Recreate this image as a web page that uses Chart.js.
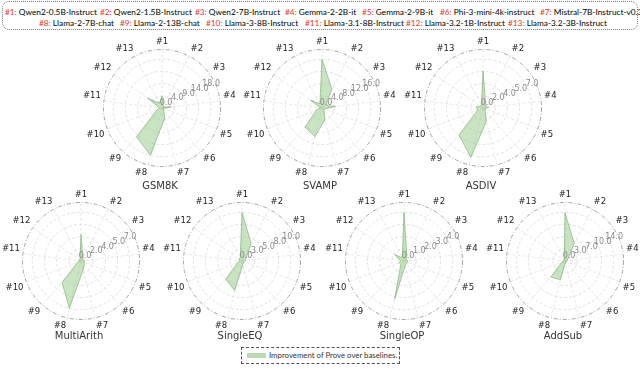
<!DOCTYPE html>
<html>
<head>
<meta charset="utf-8">
<script src="https://cdn.jsdelivr.net/npm/chart.js@4.4.0/dist/chart.umd.min.js"></script>
<style>
    body { margin: 0; width: 640px; height: 381px; position: relative; background: #fff; overflow: hidden; font-family: 'DejaVu Sans', sans-serif; }
    .model-legend { position: absolute; left: 2px; top: 1px; width: 634px; height: 27px; border: 1px dotted #777; border-radius: 7px; }
    .model-item { position: absolute; font-family: Lato, sans-serif; font-size: 8.3px; line-height: 10px; white-space: nowrap; color: #000; }
    .model-item span { color: #e8352b; }
    canvas { position: absolute; }
    .panel-title { position: absolute; font-size: 10px; line-height: 12px; color: #333; transform: translate(-50%, -50%); white-space: nowrap; }
    .gain-legend { position: absolute; left: 241px; top: 347px; width: 157px; height: 15px; border: 1px dashed #555; }
    .gain-patch { position: absolute; left: 5px; top: 5px; width: 19px; height: 5px; background: #bcdab2; }
    .gain-text { position: absolute; left: 27px; top: 2px; font-family: Lato, sans-serif; font-size: 7.8px; line-height: 11px; color: #333; white-space: nowrap; }
</style>
</head>
<body>
<div class="model-legend" id="modelLegend"></div>

<canvas id="gsm8k"></canvas>
<canvas id="svamp"></canvas>
<canvas id="asdiv"></canvas>
<canvas id="multiarith"></canvas>
<canvas id="singleeq"></canvas>
<canvas id="singleop"></canvas>
<canvas id="addsub"></canvas>

<div class="gain-legend">
    <div class="gain-patch"></div>
    <div class="gain-text">Improvement of Prove over baselines.</div>
</div>

<script>
// Models on the top legend
const modelNames = [
    'Qwen2-0.5B-Instruct', 'Qwen2-1.5B-Instruct', 'Qwen2-7B-Instruct', 'Gemma-2-2B-it',
    'Gemma-2-9B-it', 'Phi-3-mini-4k-instruct', 'Mistral-7B-Instruct-v0.3',
    'Llama-2-7B-chat', 'Llama-2-13B-chat', 'Llama-3-8B-Instruct', 'Llama-3.1-8B-Instruct',
    'Llama-3.2-1B-Instruct', 'Llama-3.2-3B-Instruct'
];
const axisLabels = modelNames.map((_, i) => '#' + (i + 1));

// Improvement per model (#1..#13) for each dataset
const gsm8kGain      = [4.4, 1.0, 0.6, 3.5, 0.5, 1.0, 4.0, 18.0, 14.2, 2.0, 1.0, 6.5, 2.0];
const svampGain      = [16.0, 7.0, 1.5, 4.5, 1.0, 1.0, 4.0, 9.7, 8.4, 2.0, 0.5, 4.6, 1.5];
const asdivGain      = [5.3, 0.8, 0.5, 0.8, 0.3, 0.5, 2.0, 7.3, 5.2, 0.8, 1.0, 0.5, 0.5];
const multiarithGain = [3.8, 0.6, 0.3, 0.5, 0.5, 0.7, 1.3, 7.0, 4.1, 0.5, 0.3, 0.3, 0.3];
const singleeqGain   = [10.4, 4.2, 1.0, 0.8, 0.5, 0.5, 0.8, 6.5, 5.2, 1.0, 0.5, 0.8, 0.8];
const singleopGain   = [4.0, 0.5, 0.2, 0.3, 0.3, 0.3, 0.4, 3.2, 0.4, 0.4, 0.3, 0.9, 0.3];
const addsubGain     = [13.7, 5.6, 1.0, 0.5, 0.3, 0.3, 0.5, 5.5, 6.0, 1.0, 0.3, 0.3, 0.5];

// Radial tick labels (as printed) and the value of the top tick
const gsm8kTicks      = ['0.0', '4.0', '9.0', '14.0', '18.0'];
const svampTicks      = ['0.0', '4.0', '8.0', '12.0', '16.0'];
const asdivTicks      = ['0.0', '2.0', '4.0', '5.0', '7.0'];
const multiarithTicks = ['0.0', '2.0', '4.0', '5.0', '7.0'];
const singleeqTicks   = ['0.0', '3.0', '5.0', '8.0', '10.0'];
const singleopTicks   = ['0.0', '1.0', '2.0', '3.0', '4.0'];
const addsubTicks     = ['0.0', '3.0', '7.0', '10.0', '14.0'];
const topTickValues   = { gsm8k: 18, svamp: 16, asdiv: 7, multiarith: 7, singleeq: 10.4, singleop: 4, addsub: 13.8 };

// Build the model legend
const legendX = [2, 97, 192, 282, 359, 437, 537, 36, 117, 203, 302, 403, 505];
const legendBox = document.getElementById('modelLegend');
modelNames.forEach((name, i) => {
    const item = document.createElement('div');
    item.className = 'model-item';
    item.style.left = legendX[i] + 'px';
    item.style.top = (i < 7 ? 5 : 16) + 'px';
    item.innerHTML = `<span>#${i + 1}:</span> ${name}`;
    legendBox.appendChild(item);
});

// Plugin that writes the radial tick labels along one slanted spoke
function tickLabelPlugin(texts, values) {
    return {
        id: 'slantedTicks',
        afterDatasetsDraw(chart) {
            const r = chart.scales.r;
            const ctx = chart.ctx;
            ctx.save();
            ctx.font = '8px "DejaVu Sans"';
            ctx.fillStyle = '#8a8a8a';
            ctx.textAlign = 'center';
            ctx.textBaseline = 'middle';
            texts.forEach((t, i) => {
                const p = r.getPointPositionForValue(2.44, values[i]);
                ctx.fillText(t, p.x + 4, p.y - 5);
            });
            ctx.restore();
        }
    };
}

function makeRadar(id, values, tickTexts, cx, cy, title, titleY) {
    const size = 158;
    const canvas = document.getElementById(id);
    canvas.width = size;
    canvas.height = size;
    canvas.style.left = (cx - size / 2) + 'px';
    canvas.style.top = (cy - size / 2) + 'px';

    const top = topTickValues[id];
    const tickValues = [0, 0.25, 0.5, 0.75, 1].map(f => f * top);
    const outer = top * 1.2;
    const ringValues = tickValues.concat([outer]);
    const last = ringValues.length - 1;

    new Chart(canvas, {
        type: 'radar',
        data: {
            labels: axisLabels,
            datasets: [{
                data: values,
                backgroundColor: 'rgba(150, 200, 135, 0.5)',
                borderColor: 'rgba(120, 175, 110, 0.9)',
                borderWidth: 0.7,
                pointRadius: 0,
                fill: true
            }]
        },
        options: {
            responsive: false,
            animation: false,
            plugins: { legend: { display: false }, tooltip: { enabled: false } },
            scales: {
                r: {
                    min: 0,
                    max: outer,
                    afterBuildTicks: s => { s.ticks = ringValues.map(v => ({ value: v })); },
                    ticks: { display: false },
                    grid: {
                        circular: true,
                        color: ctx => ctx.index === last ? '#9a9a9a' : '#d6d6d6',
                        lineWidth: ctx => ctx.index === last ? 0.9 : 0.7
                    },
                    border: {
                        dash: ctx => ctx.index === last ? [4, 2, 1, 2] : [3, 2]
                    },
                    angleLines: { color: '#dddddd', lineWidth: 0.7, borderDash: [3, 2] },
                    pointLabels: {
                        font: { size: 8.5, family: 'DejaVu Sans' },
                        color: '#222',
                        padding: 3
                    }
                }
            }
        },
        plugins: [tickLabelPlugin(tickTexts, tickValues)]
    });

    const t = document.createElement('div');
    t.className = 'panel-title';
    t.textContent = title;
    t.style.left = cx + 'px';
    t.style.top = titleY + 'px';
    document.body.appendChild(t);
}

makeRadar('gsm8k', gsm8kGain, gsm8kTicks, 160, 107, 'GSM8K', 186);
makeRadar('svamp', svampGain, svampTicks, 320, 107, 'SVAMP', 186);
makeRadar('asdiv', asdivGain, asdivTicks, 481, 107, 'ASDIV', 186);
makeRadar('multiarith', multiarithGain, multiarithTicks, 79, 260, 'MultiArith', 336);
makeRadar('singleeq', singleeqGain, singleeqTicks, 240, 260, 'SingleEQ', 336);
makeRadar('singleop', singleopGain, singleopTicks, 402, 260, 'SingleOP', 336);
makeRadar('addsub', addsubGain, addsubTicks, 563, 260, 'AddSub', 336);
</script>
</body>
</html>
